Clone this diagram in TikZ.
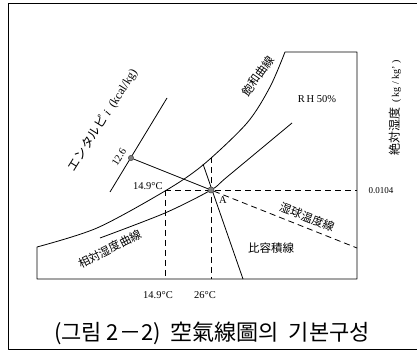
\documentclass[tikz,border=0pt]{standalone}
\usepackage{fontspec}
\setmainfont{Liberation Serif}
\newfontfamily\jp{Noto Sans CJK JP}
\newfontfamily\kr{Noto Sans CJK KR}
\begin{document}
\begin{tikzpicture}[x=1pt,y=-1pt, line width=0.8pt, line join=round,
  jpl/.style={inner sep=0pt, font=\jp\fontsize{11.5}{11.5}\selectfont},
  num/.style={inner sep=0pt, font=\fontsize{10.5}{11}\selectfont},
  dsh/.style={dash pattern=on 6pt off 4pt},
  ptdot/.style={circle, fill=gray, draw=black!70, line width=0.5pt, inner sep=0pt, minimum size=5pt}]
\useasboundingbox (0,0) rectangle (417,352);
\draw[line width=1pt] (417,4) -- (8,4) -- (8,349) -- (417,349);
% coordinates
\coordinate (dp) at (165,190);
\coordinate (t26) at (211,157);
\coordinate (b149) at (165,279);
\coordinate (b26) at (211,279);
\coordinate (rE) at (357,190);
\coordinate (tr) at (357,52);
\coordinate (br) at (357,279);
\coordinate (bl) at (37,279);
\coordinate (hA) at (167,98);
\coordinate (hB) at (110,192);
\coordinate (wb) at (357,248);
\coordinate (v1) at (203,164);
\coordinate (v2) at (243,279);
% saturation curve and chart outline
\draw plot[smooth] coordinates {(37,247) (97,228) (165,191) (203,165) (247,123) (270,87) (285,52)} -- (tr) -- (br) -- (bl) -- cycle;
% RH 50% curve
\draw plot[smooth] coordinates {(100,238) (165,213) (211,190) (227,177) (292,123)};
% enthalpy axis
\draw (hA) -- (hB);
\node[ptdot] (h) at (131,158) {};
\node[ptdot, minimum size=6pt] (a) at (211,190) {};
% lines through A
\draw (h) -- (a);
\draw[dsh] (a) -- (wb);
\draw (v1) -- (v2);
\draw[dsh] (dp) -- (rE);
\draw[dsh] (dp) -- (b149);
\draw[dsh] (t26) -- (b26);
\node[ptdot] at (h) {};
\node[ptdot, minimum size=6pt] at (a) {};
% labels
\node[inner sep=0pt, rotate=58, font=\fontsize{12}{12}\selectfont] (lh) at (103,120) {{\jp\fontsize{12.5}{12.5}\selectfont エンタルピ} {\itshape i} \ (kcal/kg)};
\node[num, rotate=58] (l126) at (119,157) {12.6};
\node[jpl, rotate=55] (lsat) at (258,76) {飽和曲線};
\node[num] (lrh) at (317,99) {R\,H 50\%};
\node[jpl] (lsv) at (271,248) {比容積線};
\node[jpl, rotate=-21] (lwb) at (307,217) {湿球温度線};
\node[jpl, rotate=27] (lrc) at (110,249) {相対湿度曲線};
\node[num, anchor=east] (l149a) at (163,186) {14.9°C};
\node[num] (l149b) at (158,295) {14.9°C};
\node[num] (l26) at (205,295) {26°C};
\node[num] (lA) at (223,200) {A};
\node[inner sep=0pt, font=\fontsize{9}{9}\selectfont] (lx) at (381,191) {0.0104};
\node[inner sep=0pt, rotate=90] (lax) at (395,108) {{\jp\fontsize{12}{12}\selectfont 絶対湿度}\ \ ( kg / kg' )};
\node[inner sep=0pt, font=\kr\fontsize{22}{22}\selectfont] (cap) at (212,333) {(그림 2－2)\hspace{0.45em}空氣線圖의\hspace{0.45em}기본구성};
\end{tikzpicture}
\end{document}
